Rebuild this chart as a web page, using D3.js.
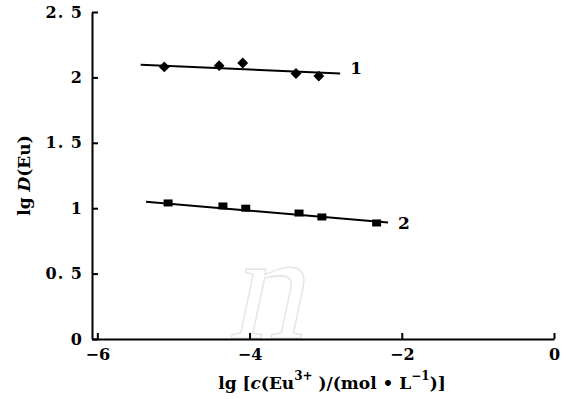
<!DOCTYPE html>
<html>
<head>
<meta charset="utf-8">
<script src="https://cdn.jsdelivr.net/npm/d3@7"></script>
<style>
    body { margin: 0; background: #fff; }
    text { font-family: "DejaVu Serif", "Liberation Serif", serif; font-weight: bold; fill: #000; }
</style>
</head>
<body>
<div id="chart"></div>
<script>
// values
const xTicks = [-6, -4, -2, 0];
const yTicks = [0, 0.5, 1, 1.5, 2, 2.5];
const yTickLabels = ["0", "0. 5", "1", "1. 5", "2", "2. 5"];

// curve 1 (diamonds)
const s1x = [-5.12, -4.40, -4.09, -3.39, -3.09];
const s1y = [2.08, 2.09, 2.11, 2.03, 2.01];
const fit1x = [-5.43, -2.81];
const fit1y = [2.097, 2.03];

// curve 2 (squares)
const s2x = [-5.07, -4.35, -4.05, -3.35, -3.05, -2.33];
const s2y = [1.04, 1.017, 1.0, 0.963, 0.933, 0.887];
const fit2x = [-5.36, -2.18];
const fit2y = [1.05, 0.89];

const width = 566, height = 399;
const margin = {top: 12, right: 12, bottom: 60, left: 92};

const svg = d3.select("#chart").append("svg")
    .attr("width", width)
    .attr("height", height);

const x = d3.scaleLinear().domain([-6.07, 0]).range([margin.left, width - margin.right]);
const y = d3.scaleLinear().domain([0, 2.5]).range([height - margin.bottom, margin.top]);

// faint watermark
svg.append("text")
    .attr("x", 0).attr("y", 0)
    .attr("transform", "translate(228,338) skewX(-12)")
    .style("font-family", "'Liberation Serif', serif")
    .style("font-size", "150px")
    .style("font-weight", "normal")
    .style("fill", "none")
    .style("stroke", "#e6e6e6")
    .style("stroke-width", 1.5)
    .text("n");

// axes
const xAxis = svg.append("g")
    .attr("transform", `translate(0,${y(0)})`)
    .call(d3.axisBottom(x).tickValues(xTicks).tickSizeInner(-6).tickSizeOuter(0)
        .tickFormat(d => d < 0 ? "\u2212" + Math.abs(d) : d));
xAxis.select(".domain").attr("stroke-width", 2);
xAxis.selectAll(".tick line").attr("stroke-width", 2);
xAxis.selectAll(".tick text")
    .attr("y", 10)
    .style("font-size", "16px")
    .style("font-family", "'DejaVu Serif', serif");

const yAxis = svg.append("g")
    .attr("transform", `translate(${x.range()[0]},0)`)
    .call(d3.axisLeft(y).tickValues(yTicks).tickSizeInner(-6).tickSizeOuter(0)
        .tickFormat((d, i) => yTickLabels[i]));
yAxis.select(".domain").attr("stroke-width", 2);
yAxis.selectAll(".tick line").attr("stroke-width", 2);
yAxis.selectAll(".tick text")
    .attr("x", -9)
    .style("font-size", "16px")
    .style("letter-spacing", "1px")
    .style("font-family", "'DejaVu Serif', serif");

// axis titles
svg.append("text")
    .attr("transform", `translate(30,${(y(0) + y(2.5)) / 2}) rotate(-90)`)
    .attr("text-anchor", "middle")
    .style("font-size", "17px")
    .html('lg <tspan font-style="italic">D</tspan>(Eu)');

svg.append("text")
    .attr("x", 332).attr("y", 389)
    .attr("text-anchor", "middle")
    .style("font-size", "17px")
    .html('lg [<tspan font-style="italic">c</tspan>(Eu<tspan dy="-9" font-size="12px">3+</tspan><tspan dy="9"> )/(mol \u2022 L</tspan><tspan dy="-9" font-size="12px">\u22121</tspan><tspan dy="9">)]</tspan>');

const line = d3.line().x(d => x(d[0])).y(d => y(d[1]));

// fit lines
svg.append("path")
    .attr("d", line(d3.zip(fit1x, fit1y)))
    .attr("fill", "none").attr("stroke", "#000").attr("stroke-width", 2);
svg.append("path")
    .attr("d", line(d3.zip(fit2x, fit2y)))
    .attr("fill", "none").attr("stroke", "#000").attr("stroke-width", 2);

// markers
svg.selectAll(".diamond")
    .data(d3.zip(s1x, s1y))
    .enter().append("path")
    .attr("class", "diamond")
    .attr("transform", d => `translate(${x(d[0])},${y(d[1])})`)
    .attr("d", d3.symbol(d3.symbolDiamond2, 75))
    .attr("fill", "#000");

svg.selectAll(".square")
    .data(d3.zip(s2x, s2y))
    .enter().append("rect")
    .attr("class", "square")
    .attr("x", d => x(d[0]) - 4.5)
    .attr("y", d => y(d[1]) - 3.5)
    .attr("width", 9).attr("height", 7)
    .attr("fill", "#000");

// curve labels
svg.append("text")
    .attr("x", x(fit1x[1]) + 10).attr("y", y(fit1y[1]) + 1)
    .style("font-size", "17px")
    .text("1");
svg.append("text")
    .attr("x", x(fit2x[1]) + 10).attr("y", y(fit2y[1]) + 6)
    .style("font-size", "17px")
    .text("2");
</script>
</body>
</html>
